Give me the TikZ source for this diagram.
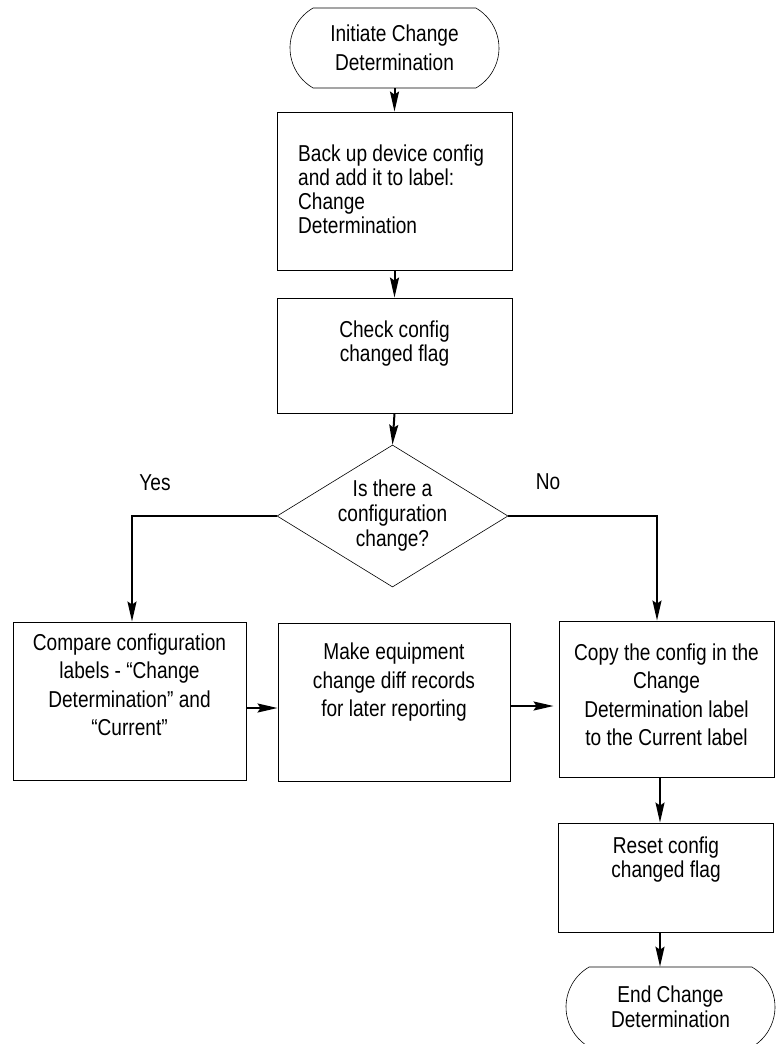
\documentclass[tikz,border=0pt]{standalone}
\usepackage{fontspec}
\setmainfont{Liberation Sans}[FakeStretch=0.83]
\usepackage{tikz}
\usetikzlibrary{arrows.meta, shapes.geometric, shapes.misc, calc}

\begin{document}
\begin{tikzpicture}[x=1pt, y=-1pt,
    every node/.style={font=\fontsize{23}{24}\selectfont},
    box/.style={draw, line width=0.9pt, inner sep=0pt},
    txt/.style={align=center, inner sep=0pt},
    loose/.style={font=\fontsize{23}{28.5}\selectfont},
    term/.style={draw, line width=0.6pt, rounded rectangle, rounded rectangle arc length=120,
        minimum width=209pt, minimum height=80pt, inner sep=0pt, align=center},
    flow/.style={-{Stealth[length=20pt, width=9pt, inset=3pt]}, line width=2pt}]
    \useasboundingbox (0,0) rectangle (783,1044);

    % terminals
    \node[term, font=\fontsize{23}{29}\selectfont] (start) at (394.5,48) {Initiate Change\\Determination};
    \node[term, font=\fontsize{23}{25}\selectfont] (end) at (670.5,1007) {End Change\\Determination};

    % process boxes
    \node[box, minimum width=235pt, minimum height=158pt] (b1) at (394.5,191) {};
    \node[box, minimum width=235pt, minimum height=115pt] (b2) at (394.5,355.5) {};
    \node[box, minimum width=233pt, minimum height=158pt] (b3) at (129.5,701) {};
    \node[box, minimum width=232pt, minimum height=158pt] (b4) at (394,702) {};
    \node[box, minimum width=215pt, minimum height=156pt] (b5) at (666.5,699) {};
    \node[box, minimum width=215pt, minimum height=109pt] (b6) at (666,877.5) {};

    \node[txt, align=left, anchor=west] (t1) at (298,189) {Back up device config\\and add it to label:\\Change\\Determination};
    \node[txt] (t2) at (394.5,344) {Check config\\changed flag};
    \node[txt, loose] (t3) at (129.5,685) {Compare configuration\\labels - “Change\\Determination” and\\“Current”};
    \node[txt, loose] (t4) at (394,682.5) {Make equipment\\change diff records\\for later reporting};
    \node[txt, loose] (t5) at (666.5,695) {Copy the config in the\\Change\\Determination label\\to the Current label};
    \node[txt] (t6) at (666,860) {Reset config\\changed flag};

    % decision
    \node[draw, diamond, line width=0.6pt, aspect=1.63, inner sep=0pt, minimum width=231pt,
        minimum height=142pt, align=center, font=\fontsize{23}{25}\selectfont] (dec) at (392.5,516)
        {Is there a\\configuration\\change?};
    \node (yes) at (155,483) {Yes};
    \node (no) at (548,482) {No};

    % connectors
    \foreach \a/\b in {start/b1, b1/b2, b2/dec} \draw[flow] (\a.south) -- (\b.north);
    \draw[flow] (dec.west) -| ($(b3.north)+(2.5,0)$);
    \draw[flow] (dec.east) -| ($(b5.north)+(-9.5,0)$);
    \draw[flow] ($(b3.east)+(0,7)$) -- ($(b4.west)+(0,6)$);
    \draw[flow, shorten >=5pt] ($(b4.east)+(0,4)$) -- ($(b5.west)+(0,7)$);
    \draw[flow] ($(b5.south)+(-6.5,0)$) -- ($(b6.north)+(-6,0)$);
    \draw[flow] ($(b6.south)+(-6,0)$) -- ($(end.north)+(-10.5,0)$);
\end{tikzpicture}
\end{document}
